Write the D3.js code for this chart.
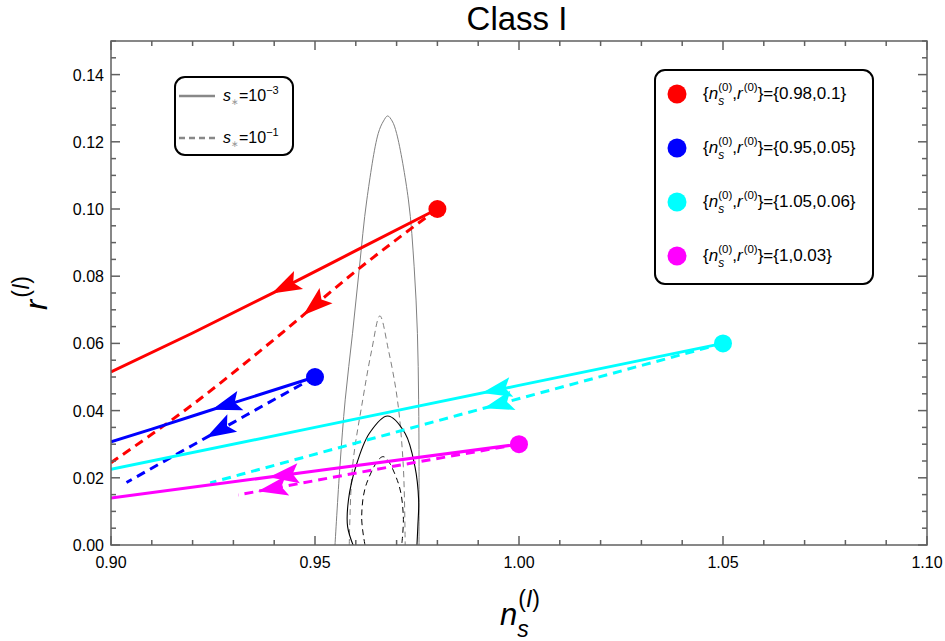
<!DOCTYPE html>
<html><head><meta charset="utf-8">
<script src="https://cdn.jsdelivr.net/npm/d3@7"></script>
<style>body{margin:0;background:#fff}svg{display:block}text{font-family:"Liberation Sans",Arial,Helvetica,sans-serif;fill:#000}</style>
</head><body><svg id="c" width="945" height="641"></svg>
<script>
// ---------- data ----------
const chartTitle = "Class I";
const xTicks = [0.90, 0.95, 1.00, 1.05, 1.10];
const xTickLabels = ["0.90", "0.95", "1.00", "1.05", "1.10"];
const xMinorStep = 0.01;
const yTicks = [0.00, 0.02, 0.04, 0.06, 0.08, 0.10, 0.12, 0.14];
const yTickLabels = ["0.00", "0.02", "0.04", "0.06", "0.08", "0.10", "0.12", "0.14"];
const yMinorStep = 0.005;

const seriesColors = ["#ff0000", "#0000ff", "#00ffff", "#ff00ff"];
const startNs = [0.98, 0.95, 1.05, 1.00];
const startR = [0.10, 0.05, 0.06, 0.03];
const legendValues = ["{0.98,0.1}", "{0.95,0.05}", "{1.05,0.06}", "{1,0.03}"];

// s* = 1e-3 (solid)
const redSolid = [[0.98, 0.100], [0.96, 0.0876], [0.94, 0.0752], [0.92, 0.0631], [0.90, 0.0515]];
const blueSolid = [[0.95, 0.050], [0.93, 0.0423], [0.91, 0.0345], [0.90, 0.0307]];
const cyanSolid = [[1.05, 0.060], [1.00, 0.0475], [0.95, 0.0350], [0.90, 0.0225]];
const magentaSolid = [[1.00, 0.030], [0.95, 0.0220], [0.90, 0.0140]];
// s* = 1e-1 (dashed)
const redDashed = [[0.98, 0.100], [0.96, 0.0815], [0.94, 0.0612], [0.92, 0.0418], [0.90, 0.0245]];
const blueDashed = [[0.95, 0.050], [0.94, 0.0433], [0.93, 0.0365], [0.92, 0.0297], [0.9038, 0.0186]];
const cyanDashed = [[1.05, 0.060], [0.985, 0.0386], [0.9243, 0.0185]];
const magentaDashed = [[1.00, 0.030], [0.965, 0.0225], [0.9312, 0.0149]];

const solidPaths = [redSolid, blueSolid, cyanSolid, magentaSolid];
const dashedPaths = [redDashed, blueDashed, cyanDashed, magentaDashed];
const arrowSolidNs = [0.9394, 0.9247, 0.9909, 0.9387];
const arrowDashedNs = [0.9471, 0.9233, 0.9914, 0.9360];

// observational contours
const contourGraySolid = [[0.9549, 0.0], [0.9561, 0.0233], [0.9574, 0.0432], [0.9592, 0.0630], [0.9609, 0.0828], [0.9627, 0.1027], [0.9655, 0.1225], [0.9668, 0.1262], [0.9678, 0.1277], [0.9689, 0.1262], [0.9700, 0.1225], [0.9729, 0.1027], [0.9743, 0.0828], [0.9751, 0.0630], [0.9754, 0.0432], [0.9755, 0.0233], [0.9755, 0.0]];
const contourGrayDashed = [[0.9584, 0.0], [0.9592, 0.0233], [0.9617, 0.0432], [0.9639, 0.0580], [0.9659, 0.0682], [0.9680, 0.0580], [0.9702, 0.0432], [0.97165, 0.0233], [0.9721, 0.0]];
const contourBlackSolid = [[0.9600, -0.002], [0.9580, 0.0054], [0.9582, 0.0134], [0.9600, 0.0233], [0.9633, 0.0332], [0.9678, 0.0384], [0.9721, 0.0332], [0.9745, 0.0233], [0.9754, 0.0134], [0.9752, 0.0054], [0.9749, -0.002]];
const contourBlackDashed = [[0.96225, 0.0], [0.96144, 0.0084], [0.96267, 0.0184], [0.9667, 0.0263], [0.97042, 0.0184], [0.97165, 0.0084], [0.97125, 0.0]];

const styleLegendLabels = ["−3", "−1"];

// ---------- layout ----------
const M = {left: 111, right: 927, top: 41, bottom: 545};
const svg = d3.select("#c");
const x = d3.scaleLinear().domain([0.90, 1.10]).range([M.left, M.right]);
const y = d3.scaleLinear().domain([0.0, 0.15]).range([M.bottom, M.top]);

svg.append("defs").append("clipPath").attr("id", "clip")
  .append("rect").attr("x", M.left).attr("y", M.top).attr("width", M.right - M.left).attr("height", M.bottom - M.top);

const plot = svg.append("g").attr("clip-path", "url(#clip)");

// rich text helper: one <text> element, tspans placed with absolute x/y
function rich(g, runs, anchor) {
  const t = g.append("text");
  let cx = 0, held = 0;
  runs.forEach(r => {
    const parts = Array.isArray(r.t) ? r.t : [[r.t, r.it]];
    let w = 0;
    parts.forEach((p, k) => {
      const ts = t.append("tspan").attr("y", r.dy || 0).attr("font-size", r.s)
        .attr("font-style", p[1] ? "italic" : "normal").text(p[0]);
      ts.attr("x", cx + (r.dx || 0) + w);
      if (r.fill) ts.style("fill", r.fill);
      w += ts.node().getComputedTextLength();
    });
    w += (r.dx || 0);
    if (r.hold) { held = w; }
    else { cx += Math.max(w, held); held = 0; }
  });
  if (anchor === "middle") t.attr("transform", `translate(${-cx / 2},0)`);
  return cx;
}

// contours
const cLine = d3.line().x(d => x(d[0])).y(d => y(d[1])).curve(d3.curveCatmullRom.alpha(0.5));
plot.append("path").attr("d", cLine(contourGraySolid)).attr("fill", "none").attr("stroke", "#808080").attr("stroke-width", 1);
plot.append("path").attr("d", cLine(contourGrayDashed)).attr("fill", "none").attr("stroke", "#808080").attr("stroke-width", 1).attr("stroke-dasharray", "6,4");
plot.append("path").attr("d", cLine(contourBlackSolid)).attr("fill", "none").attr("stroke", "#000").attr("stroke-width", 1.1);
plot.append("path").attr("d", cLine(contourBlackDashed)).attr("fill", "none").attr("stroke", "#000").attr("stroke-width", 1).attr("stroke-dasharray", "6,4");

// trajectories
const tLine = d3.line().x(d => x(d[0])).y(d => y(d[1])).curve(d3.curveMonotoneX);
function arrowOn(node, targetX, color) {
  const L = node.getTotalLength();
  let lo = 0, hi = L;
  for (let i = 0; i < 40; i++) {
    const mid = (lo + hi) / 2;
    if (node.getPointAtLength(mid).x > targetX) lo = mid; else hi = mid;
  }
  const p = node.getPointAtLength(lo);
  const q = node.getPointAtLength(Math.max(0, lo - 4));
  const ang = Math.atan2(p.y - q.y, p.x - q.x) * 180 / Math.PI;
  plot.append("path").attr("d", "M0,0 L-30,-10 L-24,0 L-30,10 Z")
    .attr("fill", color).attr("transform", `translate(${p.x},${p.y}) rotate(${ang})`);
}
seriesColors.forEach((col, i) => {
  const ds = plot.append("path").attr("d", tLine(dashedPaths[i])).attr("fill", "none")
    .attr("stroke", col).attr("stroke-width", 3).attr("stroke-dasharray", "9,6");
  const ss = plot.append("path").attr("d", tLine(solidPaths[i])).attr("fill", "none")
    .attr("stroke", col).attr("stroke-width", 3);
  arrowOn(ss.node(), x(arrowSolidNs[i]), col);
  arrowOn(ds.node(), x(arrowDashedNs[i]), col);
});
seriesColors.forEach((col, i) => {
  plot.append("circle").attr("cx", x(startNs[i])).attr("cy", y(startR[i])).attr("r", 9).attr("fill", col);
});

// frame + ticks
const fr = svg.append("g").attr("stroke", "#606060").attr("stroke-width", 1.5);
fr.append("rect").attr("x", M.left).attr("y", M.top).attr("width", M.right - M.left).attr("height", M.bottom - M.top).attr("fill", "none");
const xMinor = d3.range(0, 21).map(i => 0.90 + i * xMinorStep);
const yMinor = d3.range(0, 31).map(i => i * yMinorStep);
const isMajor = (v, arr) => arr.some(a => Math.abs(a - v) < 1e-9);
xMinor.forEach(v => {
  const len = isMajor(v, xTicks) ? 9 : 5;
  fr.append("line").attr("x1", x(v)).attr("x2", x(v)).attr("y1", M.bottom).attr("y2", M.bottom - len);
  fr.append("line").attr("x1", x(v)).attr("x2", x(v)).attr("y1", M.top).attr("y2", M.top + len);
});
yMinor.forEach(v => {
  const len = isMajor(v, yTicks) ? 9 : 5;
  fr.append("line").attr("y1", y(v)).attr("y2", y(v)).attr("x1", M.left).attr("x2", M.left + len);
  fr.append("line").attr("y1", y(v)).attr("y2", y(v)).attr("x1", M.right).attr("x2", M.right - len);
});
xTicks.forEach((v, i) => svg.append("text").attr("x", x(v)).attr("y", M.bottom + 23).attr("text-anchor", "middle").attr("font-size", 16).text(xTickLabels[i]));
yTicks.forEach((v, i) => svg.append("text").attr("x", M.left - 7).attr("y", y(v) + 6).attr("text-anchor", "end").attr("font-size", 16).text(yTickLabels[i]));

// title
svg.append("text").attr("x", 517).attr("y", 30).attr("text-anchor", "middle").attr("font-size", 33).text(chartTitle);

// axis labels
const xl = svg.append("g").attr("transform", "translate(520,625)");
rich(xl, [{t: "n", it: 1, s: 31}, {t: "s", it: 1, s: 23, dy: 12, hold: 1}, {t: [["("], ["I", 1], [")"]], s: 23, dy: -18, dx: 1}], "middle");
const yl = svg.append("g").attr("transform", "translate(47,293) rotate(-90)");
rich(yl, [{t: "r", it: 1, s: 31}, {t: [["("], ["I", 1], [")"]], s: 23, dy: -18, dx: 2}], "middle");

// style legend
const lg1 = svg.append("g");
lg1.append("rect").attr("x", 175).attr("y", 77).attr("width", 118).attr("height", 78).attr("rx", 10)
  .attr("fill", "#fff").attr("stroke", "#000").attr("stroke-width", 2);
const styleDash = [null, "6,4"];
styleLegendLabels.forEach((lab, i) => {
  const yy = i === 0 ? 96 : 138;
  lg1.append("line").attr("x1", 179).attr("x2", 215).attr("y1", yy).attr("y2", yy)
    .attr("stroke", "#888").attr("stroke-width", 2.5).attr("stroke-dasharray", styleDash[i]);
  const g = lg1.append("g").attr("transform", `translate(223,${yy + 5})`);
  rich(g, [{t: "s", it: 1, s: 16}, {t: "∗", s: 9, dy: 4, fill: "#999"}, {t: "=10", s: 16}, {t: lab, s: 11, dy: -7}]);
});

// points legend
const lg2 = svg.append("g");
lg2.append("rect").attr("x", 655).attr("y", 70).attr("width", 218).attr("height", 214).attr("rx", 10)
  .attr("fill", "#fff").attr("stroke", "#000").attr("stroke-width", 2);
seriesColors.forEach((col, i) => {
  const yy = 94 + i * 54;
  lg2.append("circle").attr("cx", 677).attr("cy", yy).attr("r", 9.5).attr("fill", col);
  const g = lg2.append("g").attr("transform", `translate(703,${yy + 5})`);
  rich(g, [{t: "{", s: 17}, {t: "n", it: 1, s: 17}, {t: "s", it: 1, s: 12, dy: 6, hold: 1},
    {t: "(0)", s: 11.5, dy: -8.5}, {t: ",", s: 17}, {t: "r", it: 1, s: 17}, {t: "(0)", s: 11.5, dy: -8.5, dx: 1},
    {t: "}=" + legendValues[i], s: 17}]);
});
</script></body></html>
